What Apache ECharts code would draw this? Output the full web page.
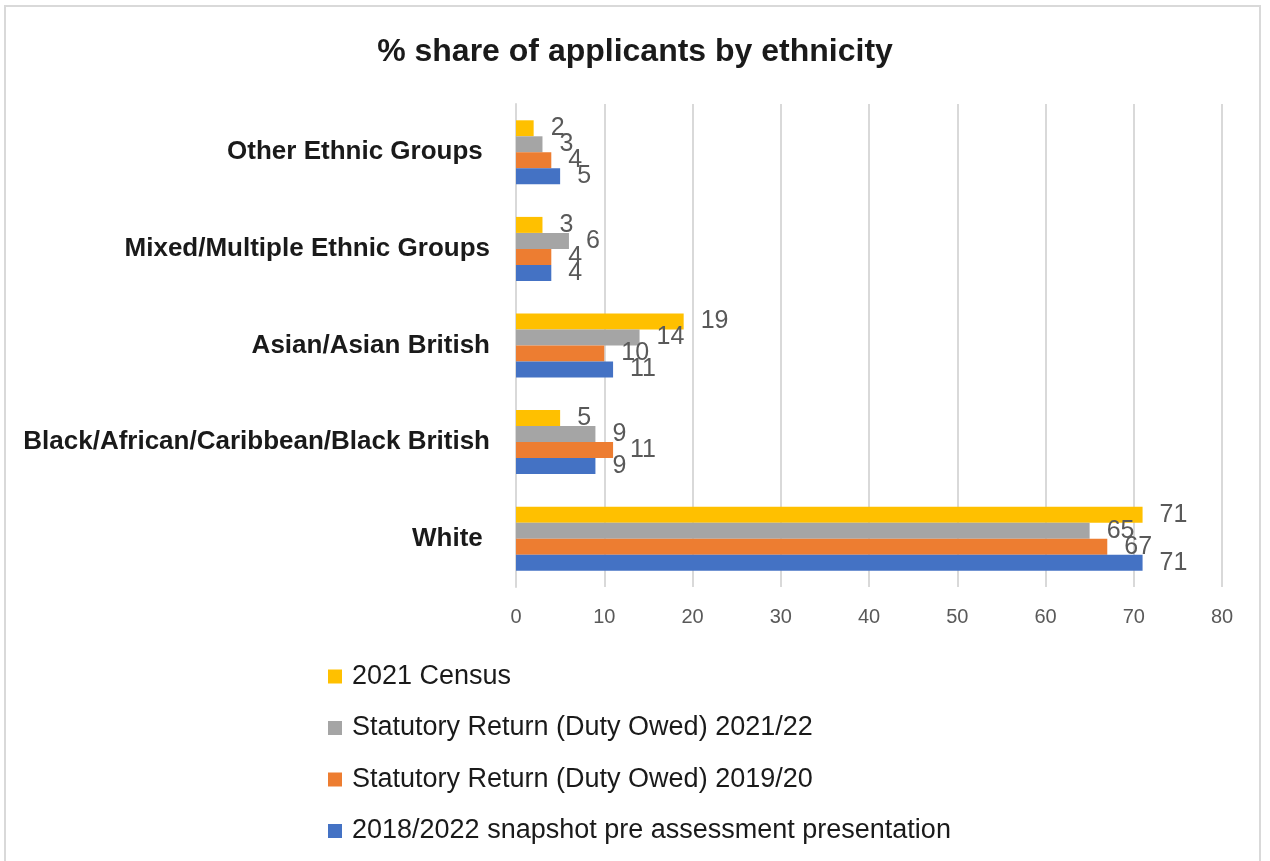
<!DOCTYPE html>
<html>
<head>
<meta charset="utf-8">
<script src="https://cdn.jsdelivr.net/npm/echarts@6/dist/echarts.min.js"></script>
<style>
  html, body { margin: 0; padding: 0; background: #fff; }
  #frame { position: absolute; left: 4px; top: 5px; width: 1257px; height: 860px; border: 2px solid #d9d9d9; box-sizing: border-box; }
  #chart { position: absolute; left: 0; top: 0; width: 1270px; height: 861px; }
</style>
</head>
<body>
<div id="frame"></div>
<div id="chart"></div>
<script>
// Ethnic groups, listed bottom to top on the category axis
const categories = [
  'White ',
  'Black/African/Caribbean/Black British',
  'Asian/Asian British',
  'Mixed/Multiple Ethnic Groups',
  'Other Ethnic Groups '
];

// Series in legend order; the first one sits at the top of each group
const seriesNames = [
  '2021 Census',
  'Statutory Return (Duty Owed) 2021/22',
  'Statutory Return (Duty Owed) 2019/20',
  '2018/2022 snapshot pre assessment presentation'
];

// Percentage share per group, same order as categories
const census2021        = [71, 5, 19, 3, 2];
const dutyOwed2021_22   = [65, 9, 14, 6, 3];
const dutyOwed2019_20   = [67, 11, 10, 4, 4];
const snapshot2018_2022 = [71, 9, 11, 4, 5];

const xTicks = [0, 10, 20, 30, 40, 50, 60, 70, 80];

const colors = ['#ffc000', '#a5a5a5', '#ed7d31', '#4472c4'];
const values = [census2021, dutyOwed2021_22, dutyOwed2019_20, snapshot2018_2022];

const FONT = '"Liberation Sans", Arial, sans-serif';

const chart = echarts.init(document.getElementById('chart'), null, { renderer: 'canvas' });

chart.setOption({
  backgroundColor: 'transparent',
  animation: false,
  title: {
    text: '% share of applicants by ethnicity',
    left: 'center',
    top: 31,
    textStyle: { fontFamily: FONT, fontSize: 32, fontWeight: 'bold', color: '#1a1a1a' }
  },
  legend: {
    orient: 'vertical',
    left: 323,
    top: 658,
    itemGap: 24.5,
    itemWidth: 14,
    itemHeight: 14,
    icon: 'rect',
    data: seriesNames,
    textStyle: { fontFamily: FONT, fontSize: 27, color: '#1a1a1a', padding: [0, 0, 0, 5] }
  },
  grid: { left: 516, right: 48, top: 104, bottom: 274, containLabel: false },
  xAxis: {
    type: 'value',
    min: xTicks[0],
    max: xTicks[xTicks.length - 1],
    interval: 10,
    axisLine: { show: false },
    axisTick: { show: false },
    splitLine: { show: true, lineStyle: { color: '#d9d9d9', width: 2 } },
    axisLabel: { fontFamily: FONT, fontSize: 20, color: '#595959', margin: 20 }
  },
  yAxis: {
    type: 'category',
    data: categories,
    axisLine: { show: true, lineStyle: { color: '#d9d9d9', width: 2 } },
    axisTick: { show: false },
    axisLabel: {
      fontFamily: FONT, fontSize: 26, fontWeight: 'bold', color: '#1a1a1a',
      margin: 26, padding: [6, 0, 0, 0]
    }
  },
  series: values.map((vals, i) => ({
    name: seriesNames[i],
    type: 'bar',
    data: vals,
    barWidth: 16,
    barGap: '0%',
    barCategoryGap: '33%',
    itemStyle: { color: colors[i] },
    label: {
      show: true,
      position: 'right',
      distance: 17,
      fontFamily: FONT,
      fontSize: 25,
      color: '#595959'
    }
  }))
});
</script>
</body>
</html>
